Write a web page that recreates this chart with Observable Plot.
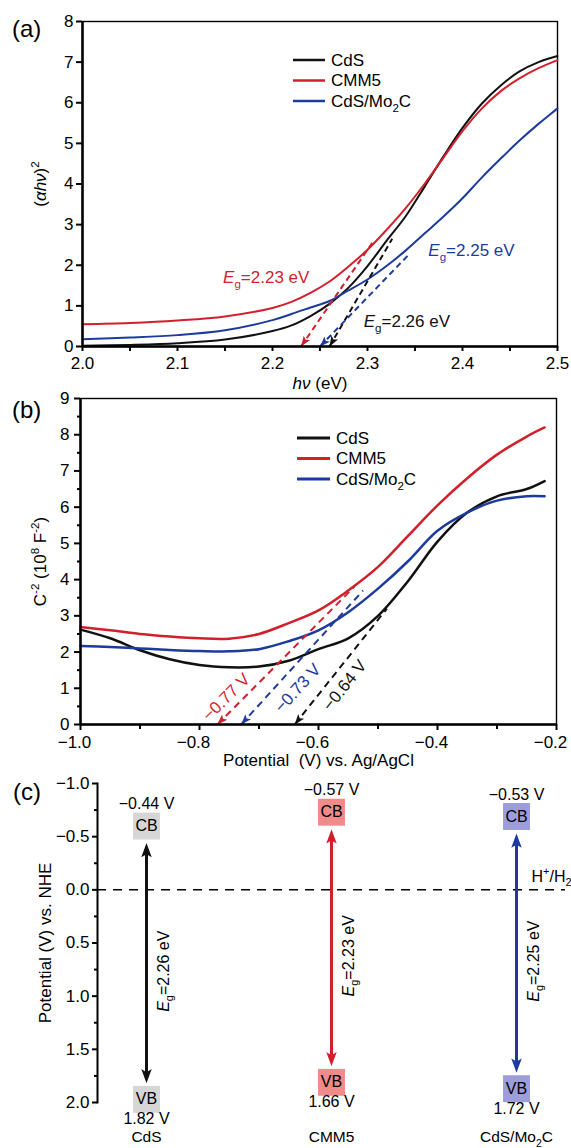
<!DOCTYPE html>
<html>
<head>
<meta charset="utf-8">
<script src="https://cdn.jsdelivr.net/npm/d3@7"></script>
<script src="https://cdn.jsdelivr.net/npm/@observablehq/plot@0.6"></script>
<style>
html,body{margin:0;padding:0;background:#fff;}
#root{position:relative;width:571px;height:1148px;overflow:hidden;font-family:"Liberation Sans",Arial,Helvetica,sans-serif;color:#000;}
.panel{position:absolute;left:0;}
.tag{position:absolute;font-size:24px;line-height:24px;}
</style>
</head>
<body>
<div id="root"></div>
<script>
// ================= DATA =================
const seriesNames  = ["CdS", "CMM5", "CdS/Mo2C"];
const seriesLabels = ["CdS", "CMM5", "CdS/Mo_{2}C"];
const seriesColors = ["#111111", "#d21f2b", "#1d3b9e"];
const boxColors    = ["#d6d6d6", "#f08b8b", "#9d9ddc"];

// (a) Tauc plot: (αhν)² vs hν
const hv       = [2.00,2.05,2.10,2.15,2.20,2.22,2.24,2.26,2.28,2.30,2.32,2.34,2.36,2.38,2.40,2.42,2.44,2.46,2.48,2.50];
const taucCdS  = [0.02,0.04,0.08,0.17,0.38,0.52,0.75,1.05,1.45,1.98,2.60,3.20,3.93,4.68,5.38,5.97,6.42,6.77,7.00,7.15];
const taucCMM5 = [0.55,0.58,0.64,0.74,0.95,1.10,1.32,1.60,1.97,2.38,2.87,3.40,4.00,4.65,5.30,5.85,6.28,6.60,6.85,7.05];
const taucMo2C = [0.18,0.22,0.28,0.40,0.65,0.80,0.96,1.12,1.38,1.65,1.98,2.36,2.78,3.20,3.65,4.15,4.62,5.07,5.48,5.86];
const taucEg      = [2.26, 2.23, 2.25];
const taucFitEndX = [2.326, 2.305, 2.345];
const taucFitEndY = [2.65, 2.55, 2.30];
const taucLabelX  = [2.296, 2.148, 2.364];
const taucLabelY  = [0.62, 1.70, 2.36];
const taucXTicks  = [2.0, 2.1, 2.2, 2.3, 2.4, 2.5];
const taucXMinor  = [2.05, 2.15, 2.25, 2.35, 2.45];
const taucYTicks  = [0, 1, 2, 3, 4, 5, 6, 7, 8];

// (b) Mott–Schottky: C⁻² vs potential
const pot    = [-1.00,-0.95,-0.90,-0.85,-0.80,-0.75,-0.70,-0.65,-0.60,-0.55,-0.50,-0.45,-0.40,-0.35,-0.30,-0.25,-0.22];
const msCdS  = [2.62,2.38,2.05,1.80,1.64,1.58,1.60,1.76,2.08,2.38,3.00,3.95,5.05,5.85,6.30,6.50,6.72];
const msCMM5 = [2.69,2.60,2.50,2.43,2.38,2.37,2.50,2.80,3.15,3.70,4.35,5.20,6.05,6.80,7.45,7.95,8.20];
const msMo2C = [2.17,2.14,2.10,2.06,2.03,2.02,2.08,2.30,2.60,3.10,3.75,4.50,5.35,5.85,6.18,6.30,6.30];
const msFb      = [-0.64, -0.77, -0.73];
const msFitEndX = [-0.485, -0.54, -0.525];
const msFitEndY = [3.2, 3.8, 3.7];
const msLabelX  = [-0.556, -0.755, -0.635];
const msLabelY  = [1.08, 0.75, 1.0];
const msXTicks  = [-1.0, -0.8, -0.6, -0.4, -0.2];
const msXMinor  = [-0.9, -0.7, -0.5, -0.3];
const msYTicks  = [0, 1, 2, 3, 4, 5, 6, 7, 8, 9];
const msYMinor  = [0.5, 1.5, 2.5, 3.5, 4.5, 5.5, 6.5, 7.5, 8.5];

// (c) band positions vs NHE
const bandCB = [-0.44, -0.57, -0.53];
const bandVB = [1.82, 1.66, 1.72];
const bandEg = [2.26, 2.23, 2.25];
const bandYTicks = [-1.0, -0.5, 0.0, 0.5, 1.0, 1.5, 2.0];
const bandYMinor = [-0.75, -0.25, 0.25, 0.75, 1.25, 1.75];

// ================= HELPERS =================
const root = document.getElementById("root");
const FONT = '"Liberation Sans", Arial, Helvetica, sans-serif';
const baseStyle = {fontFamily: FONT, fontSize: "17px", color: "#000", background: "transparent", overflow: "visible"};
const SVGNS = "http://www.w3.org/2000/svg";
const f2 = d3.format(".2f");

// filled arrow-head symbol, apex at the anchor point, pointing up
const arrowHead = {
  draw(ctx, size) {
    const r = Math.sqrt(size / Math.PI);
    const h = 2.6 * r, w = 0.95 * r;
    ctx.moveTo(0, 0);
    ctx.lineTo(w, h);
    ctx.lineTo(0, 0.78 * h);
    ctx.lineTo(-w, h);
    ctx.closePath();
  }
};

// simple markup: *italic*, _{sub}, ^{sup}
function richNode(el) {
  const s = el.textContent;
  if (!/[*_^]/.test(s)) return;
  const segs = [];
  let buf = "", italic = false, i = 0;
  const flush = () => { if (buf) segs.push({t: buf, mode: "n", italic}); buf = ""; };
  while (i < s.length) {
    const c = s[i];
    if (c === "*") { flush(); italic = !italic; i++; }
    else if ((c === "_" || c === "^") && s[i + 1] === "{") {
      flush();
      const j = s.indexOf("}", i);
      segs.push({t: s.slice(i + 2, j), mode: c === "_" ? "sub" : "sup", italic});
      i = j + 1;
    } else { buf += c; i++; }
  }
  flush();
  const fs = parseFloat(getComputedStyle(el).fontSize) || 17;
  el.textContent = "";
  let cur = 0;
  for (const g of segs) {
    const ts = document.createElementNS(SVGNS, "tspan");
    const target = g.mode === "sub" ? 0.28 * fs : g.mode === "sup" ? -0.42 * fs : 0;
    if (target !== cur) { ts.setAttribute("dy", (target - cur).toFixed(2)); cur = target; }
    if (g.mode !== "n") ts.setAttribute("font-size", (0.68 * fs).toFixed(2));
    if (g.italic) ts.setAttribute("font-style", "italic");
    ts.textContent = g.t;
    el.appendChild(ts);
  }
}
function richify(node) {
  node.querySelectorAll("text").forEach(t => {
    const inner = t.querySelectorAll("tspan");
    if (inner.length) inner.forEach(richNode); else richNode(t);
  });
}
function place(el, top) {
  const wrap = document.createElement("div");
  wrap.className = "panel";
  wrap.style.top = top + "px";
  wrap.appendChild(el);
  root.appendChild(wrap);
  richify(el);
}
function tag(text, left, top) {
  const d = document.createElement("div");
  d.className = "tag"; d.textContent = text;
  d.style.left = left + "px"; d.style.top = top + "px";
  root.appendChild(d);
}
function legend(left, top, gap, len, textGap, lw, fontSize) {
  const svg = d3.select(root).append("svg")
    .style("position", "absolute").style("left", left + "px").style("top", top + "px")
    .style("overflow", "visible").attr("width", 140).attr("height", gap * 3)
    .attr("font-family", FONT).attr("font-size", fontSize);
  seriesNames.forEach((s, i) => {
    svg.append("line").attr("x1", 0).attr("x2", len).attr("y1", i * gap).attr("y2", i * gap)
      .attr("stroke", seriesColors[i]).attr("stroke-width", lw);
    svg.append("text").attr("x", len + textGap).attr("y", i * gap).attr("dy", "0.35em")
      .attr("fill", "#000").text(seriesLabels[i]);
  });
  richify(svg.node());
}

// ================= (a) =================
const taucSeries = [taucCdS, taucCMM5, taucMo2C];
const taucRows = seriesNames.flatMap((s, i) => hv.map((x, j) => ({series: s, hv: x, value: taucSeries[i][j]})));
const taucFits = seriesNames.map((s, i) => ({
  series: s, x0: taucEg[i], y0: 0, x1: taucFitEndX[i], y1: taucFitEndY[i],
  lx: taucLabelX[i], ly: taucLabelY[i], label: `*E*_{g}=${f2(taucEg[i])} eV`
}));

function plotA(rot) {
  return Plot.plot({
    width: 571, height: 385, marginLeft: 82, marginRight: 14, marginTop: 21, marginBottom: 39,
    style: baseStyle,
    x: {domain: [2.0, 2.5], label: null},
    y: {domain: [0, 8], label: null},
    color: {domain: seriesNames, range: seriesColors},
    marks: [
      Plot.frame({stroke: "#000", strokeWidth: 1.4}),
      Plot.axisX({ticks: taucXTicks, tickFormat: ".1f", tickSize: 5, tickPadding: 5, strokeWidth: 2, label: null}),
      Plot.axisX({ticks: taucXMinor, tickFormat: () => "", tickSize: 5, strokeWidth: 2, label: null}),
      Plot.axisY({ticks: taucYTicks, tickFormat: "d", tickSize: 6, tickPadding: 3, strokeWidth: 2, label: null}),
      Plot.line(taucRows, {x: "hv", y: "value", z: "series", stroke: "series", strokeWidth: 2, curve: "catmull-rom"}),
      Plot.link(taucFits, {x1: "x0", y1: "y0", x2: "x1", y2: "y1", stroke: "series", strokeWidth: 2, strokeDasharray: "6,4"}),
      Plot.dot(taucFits, {x: "x0", y: "y0", symbol: arrowHead, r: 4, fill: "series", stroke: "none", rotate: d => rot[d.series] || 0}),
      Plot.text(taucFits, {x: "lx", y: "ly", text: "label", fill: "series", textAnchor: "start", fontSize: 17}),
      Plot.ruleX([2.0], {strokeWidth: 2.5}),
      Plot.ruleY([0], {strokeWidth: 2.5}),
      Plot.text(["(*αhν*)^{2}"], {frameAnchor: "left", textAnchor: "middle", lineAnchor: "middle", rotate: -90, dx: -42, fontSize: 17}),
      Plot.text(["*hν* (eV)"], {frameAnchor: "bottom", textAnchor: "middle", lineAnchor: "middle", dy: 37, fontSize: 17})
    ]
  });
}
let chartA = plotA({});
{
  const sx = chartA.scale("x"), sy = chartA.scale("y"), rot = {};
  taucFits.forEach(d => {
    const dx = sx.apply(d.x0) - sx.apply(d.x1), dy = sy.apply(0) - sy.apply(d.y1);
    rot[d.series] = Math.atan2(dx, -dy) * 180 / Math.PI;
  });
  chartA = plotA(rot);
}
place(chartA, 0);

// ================= (b) =================
const msSeries = [msCdS, msCMM5, msMo2C];
const msRows = seriesNames.flatMap((s, i) => pot.map((x, j) => ({series: s, pot: x, value: msSeries[i][j]})));
const msFits = seriesNames.map((s, i) => ({
  series: s, x0: msFb[i], y0: 0, x1: msFitEndX[i], y1: msFitEndY[i],
  lx: msLabelX[i], ly: msLabelY[i], label: `${f2(msFb[i])} V`
}));

function plotB(rot, trot) {
  return Plot.plot({
    width: 571, height: 385, marginLeft: 80, marginRight: 15, marginTop: 13, marginBottom: 46,
    style: baseStyle,
    x: {domain: [-1.0, -0.2], label: null},
    y: {domain: [0, 9], label: null},
    color: {domain: seriesNames, range: seriesColors},
    marks: [
      Plot.frame({stroke: "#000", strokeWidth: 1.4}),
      Plot.axisX({ticks: msXTicks, tickFormat: () => "", tickSize: 6, strokeWidth: 2, label: null}),
      Plot.axisX({ticks: msXTicks, tickFormat: ".1f", tickSize: 0, tickPadding: 11, dx: -6, label: null}),
      Plot.axisX({ticks: msXMinor, tickFormat: () => "", tickSize: 5, strokeWidth: 2, label: null}),
      Plot.axisY({ticks: msYTicks, tickFormat: "d", tickSize: 6, tickPadding: 5, strokeWidth: 2, label: null}),
      Plot.axisY({ticks: msYMinor, tickFormat: () => "", tickSize: 3, strokeWidth: 2, label: null}),
      Plot.line(msRows, {x: "pot", y: "value", z: "series", stroke: "series", strokeWidth: 2.5, curve: "catmull-rom"}),
      Plot.link(msFits, {x1: "x0", y1: "y0", x2: "x1", y2: "y1", stroke: "series", strokeWidth: 2, strokeDasharray: "7,5"}),
      Plot.dot(msFits, {x: "x0", y: "y0", symbol: arrowHead, r: 4, fill: "series", stroke: "none", rotate: d => rot[d.series] || 0}),
      Plot.text(msFits, {x: "lx", y: "ly", text: "label", fill: "series", fontSize: 17, rotate: d => trot[d.series] || 0}),
      Plot.ruleX([-1.0], {strokeWidth: 2.5}),
      Plot.ruleY([0], {strokeWidth: 2.5}),
      Plot.text(["C^{-2} (10^{8} F^{-2})"], {frameAnchor: "left", textAnchor: "middle", lineAnchor: "middle", rotate: -90, dx: -40, fontSize: 17}),
      Plot.text(["Potential  (V) vs. Ag/AgCl"], {frameAnchor: "bottom", textAnchor: "middle", lineAnchor: "middle", dy: 36, fontSize: 17})
    ]
  });
}
let chartB = plotB({}, {});
{
  const sx = chartB.scale("x"), sy = chartB.scale("y"), rot = {}, trot = {};
  msFits.forEach(d => {
    const dx = sx.apply(d.x0) - sx.apply(d.x1), dy = sy.apply(0) - sy.apply(d.y1);
    rot[d.series] = Math.atan2(dx, -dy) * 180 / Math.PI;
    trot[d.series] = Math.atan2(-dy, -dx) * 180 / Math.PI;
  });
  chartB = plotB(rot, trot);
}
place(chartB, 385);

// ================= (c) =================
const bandRows = seriesNames.map((s, i) => ({series: s, label: seriesLabels[i], cb: bandCB[i], vb: bandVB[i], eg: bandEg[i]}));
const bandMarks = [];
bandRows.forEach((d, i) => {
  const col = seriesColors[i], box = boxColors[i];
  bandMarks.push(
    Plot.ruleX([d], {x: "series", y1: "cb", y2: "vb", stroke: col, strokeWidth: 3, insetTop: 8, insetBottom: 8}),
    Plot.dot([d], {x: "series", y: "cb", symbol: arrowHead, r: 5.5, fill: col, stroke: "none", rotate: 0}),
    Plot.dot([d], {x: "series", y: "vb", symbol: arrowHead, r: 5.5, fill: col, stroke: "none", rotate: 180}),
    Plot.dot([d], {x: "series", y: "cb", symbol: "square", r: 15.2, fill: box, stroke: "none", dy: -17}),
    Plot.dot([d], {x: "series", y: "vb", symbol: "square", r: 15.2, fill: box, stroke: "none", dy: 16}),
    Plot.text([d], {x: "series", y: "cb", text: () => "CB", dy: -17, fontSize: 16}),
    Plot.text([d], {x: "series", y: "vb", text: () => "VB", dy: 16, fontSize: 16}),
    Plot.text([d], {x: "series", y: "cb", text: e => `${f2(e.cb)} V`, dy: -39, fontSize: 16}),
    Plot.text([d], {x: "series", y: "vb", text: e => `${f2(e.vb)} V`, dy: 36, fontSize: 16}),
    Plot.text([d], {x: "series", y: e => (e.cb + e.vb) / 2, text: e => `*E*_{g}=${f2(e.eg)} eV`, rotate: -90, dx: 17, dy: 8, fontSize: 16}),
    Plot.text([d], {x: "series", text: "label", frameAnchor: "bottom", textAnchor: "middle", lineAnchor: "middle", dy: 35, fontSize: 15.5})
  );
});
const chartC = Plot.plot({
  width: 571, height: 378, marginLeft: 97, marginRight: 6, marginTop: 13, marginBottom: 46,
  style: baseStyle,
  x: {type: "point", domain: seriesNames, padding: 0.26, axis: null},
  y: {domain: [-1, 2], reverse: true, label: null},
  marks: [
    Plot.frame({anchor: "left", stroke: "#000", strokeWidth: 2}),
    Plot.axisY({ticks: bandYTicks, tickFormat: ".1f", tickSize: 5, tickPadding: 3, strokeWidth: 2, label: null}),
    Plot.axisY({ticks: bandYMinor, tickFormat: () => "", tickSize: 3, strokeWidth: 2, label: null}),
    Plot.ruleY([0], {stroke: "#000", strokeWidth: 1.5, strokeDasharray: "9,7"}),
    ...bandMarks,
    Plot.text([0], {y: d => d, text: () => "H^{+}/H_{2}", frameAnchor: "right", textAnchor: "end", lineAnchor: "middle", dx: 6, dy: -13, fontSize: 16}),
    Plot.text(["Potential (V) vs. NHE"], {frameAnchor: "left", textAnchor: "middle", lineAnchor: "middle", rotate: -90, dx: -52, fontSize: 17})
  ]
});
place(chartC, 770);

// legends and panel tags
legend(293, 60, 20.5, 32, 6, 2.5, 17);
legend(297, 438, 20.5, 33, 6, 3, 17);
tag("(a)", 12, 17);
tag("(b)", 12, 398);
tag("(c)", 13, 780);
</script>
</body>
</html>
